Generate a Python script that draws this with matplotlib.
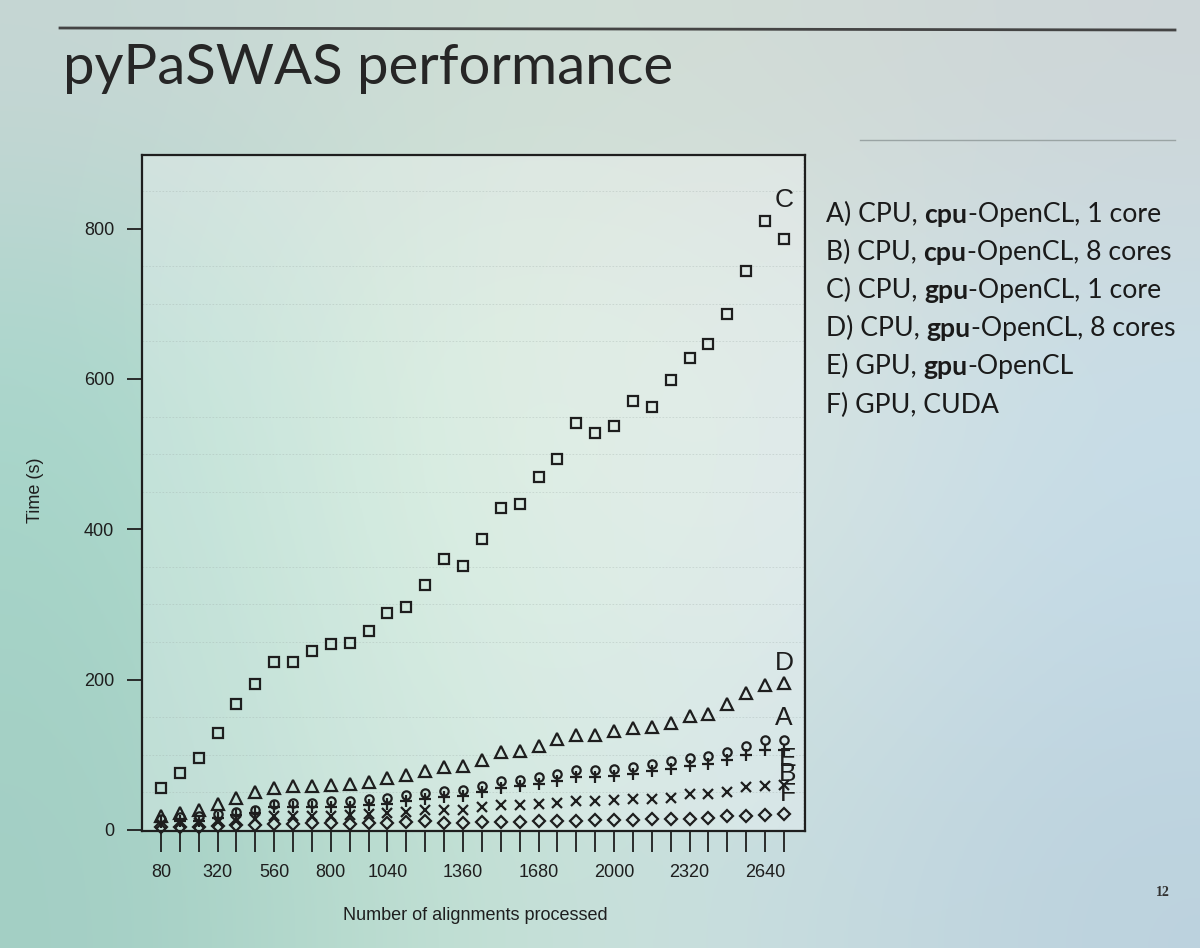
import numpy as np
import matplotlib.pyplot as plt

# alignments processed (x) and time in seconds per configuration
n_align = np.arange(80, 2721, 80)
xtick_labels = [80, 320, 560, 800, 1040, 1360, 1680, 2000, 2320, 2640]

time_a = [14, 17, 18, 21, 24, 27, 35, 36, 36, 38, 38, 41, 42, 47, 49, 52, 53,
          58, 65, 67, 70, 75, 80, 80, 81, 84, 87, 91, 95, 98, 103, 111, 120, 120]
time_b = [8, 9, 9, 11, 12, 15, 18, 18, 19, 19, 20, 21, 22, 24, 26, 26, 26,
          30, 33, 33, 34, 36, 38, 38, 40, 41, 41, 42, 48, 48, 51, 57, 58, 60]
time_c = [56, 76, 96, 129, 167, 194, 224, 224, 238, 247, 249, 265, 289, 296, 326, 361, 351,
          387, 428, 434, 470, 493, 542, 528, 537, 571, 563, 599, 628, 647, 687, 744, 810, 786]
time_d = [18, 23, 26, 34, 43, 50, 56, 58, 58, 60, 61, 64, 69, 73, 78, 83, 85,
          93, 103, 105, 112, 121, 126, 126, 131, 136, 137, 142, 152, 154, 168, 182, 193, 195]
time_e = [10, 12, 12, 16, 20, 22, 30, 30, 30, 31, 31, 33, 34, 39, 41, 44, 45,
          50, 56, 58, 61, 65, 70, 70, 72, 75, 78, 81, 85, 88, 93, 100, 106, 106]
time_f = [4, 4, 4, 5, 6, 7, 8, 8, 9, 9, 8, 9, 9, 11, 12, 9, 9,
          11, 11, 11, 12, 12, 12, 13, 13, 13, 14, 15, 15, 16, 18, 18, 20, 21]

series_names = ["A", "B", "C", "D", "E", "F"]
series_values = [time_a, time_b, time_c, time_d, time_e, time_f]
series_markers = ["o", "x", "s", "^", "+", "D"]
series_msize = [6, 6.5, 7, 8, 8.5, 6]
label_y = [149, 75, 838, 222, 94, 48]
label_x = [2720, 2735, 2720, 2720, 2735, 2735]

legend_lines = [
    [("A) CPU, ", "normal"), ("cpu", "bold"), ("-OpenCL, 1 core", "normal")],
    [("B) CPU, ", "normal"), ("cpu", "bold"), ("-OpenCL, 8 cores", "normal")],
    [("C) CPU, ", "normal"), ("gpu", "bold"), ("-OpenCL, 1 core", "normal")],
    [("D) CPU, ", "normal"), ("gpu", "bold"), ("-OpenCL, 8 cores", "normal")],
    [("E) GPU, ", "normal"), ("gpu", "bold"), ("-OpenCL", "normal")],
    [("F) GPU, CUDA", "normal")],
]

plain = ["Liberation Sans", "DejaVu Sans"]
slide_font = ["Lato", "DejaVu Sans"]
ink = "#1e1e1e"

fig = plt.figure(figsize=(12, 9.48), dpi=100)

# slide background (photo of projected slide)
bg = fig.add_axes([0, 0, 1, 1], zorder=-5)
bg_cols = np.array([
    [[198, 214, 212], [206, 222, 214], [210, 220, 214], [206, 214, 216]],
    [[168, 214, 204], [212, 236, 216], [220, 230, 226], [200, 222, 232]],
    [[164, 210, 198], [204, 234, 216], [214, 228, 226], [196, 218, 230]],
    [[162, 206, 196], [196, 226, 212], [202, 222, 224], [188, 210, 222]],
]) / 255.0
bg.imshow(bg_cols, aspect="auto", interpolation="bicubic", extent=[0, 1, 0, 1])
bg.set_xlim(0, 1)
bg.set_ylim(0, 1)
bg.axis("off")

# slide decorations
fig.add_artist(plt.Line2D([60 / 1200, 1175 / 1200], [1 - 28 / 948, 1 - 30 / 948],
                          color="#444444", lw=2))
fig.add_artist(plt.Line2D([860 / 1200, 1175 / 1200], [1 - 140 / 948, 1 - 140 / 948],
                          color="#9aa4a4", lw=1))
fig.text(63 / 1200, 1 - 84 / 948, "pyPaSWAS performance", family=slide_font,
         fontsize=40.5, color="#262626", va="baseline", ha="left")
fig.text(1163 / 1200, 1 - 893 / 948, "12", family=["Liberation Serif", "DejaVu Serif"],
         fontsize=10, color="#333333", ha="center", va="center", fontweight="bold")

ax = fig.add_axes([142 / 1200, 1 - 831 / 948, 663 / 1200, 676 / 948])
ax.set_facecolor((1, 1, 1, 0.28))

for name, vals, mk, ms in zip(series_names, series_values, series_markers, series_msize):
    ax.plot(n_align, vals, linestyle="none", marker=mk, markersize=ms,
            markerfacecolor="none", markeredgecolor=ink, markeredgewidth=1.6,
            clip_on=False, zorder=3)

for name, lx, ly in zip(series_names, label_x, label_y):
    ax.text(lx, ly, name, family=plain, fontsize=19,
            color=ink, ha="center", va="center", zorder=4)

ax.set_xlim(4, 2809)
ax.set_ylim(-1.5, 898)
ax.set_xticks(n_align)
ax.set_xticklabels([str(v) if v in xtick_labels else "" for v in n_align])
ax.set_yticks([0, 200, 400, 600, 800])
ax.tick_params(axis="x", length=15, width=1.3, pad=9, labelsize=13, colors=ink)
ax.tick_params(axis="y", length=11, width=1.3, pad=9, labelsize=13, colors=ink)
for lab in ax.get_xticklabels() + ax.get_yticklabels():
    lab.set_family(plain)
for sp in ax.spines.values():
    sp.set_linewidth(1.6)
    sp.set_color(ink)

ax.set_xticks(np.arange(0, 2801, 80), minor=True)
ax.set_yticks(np.arange(0, 900, 50), minor=True)
ax.tick_params(which="minor", length=0)
ax.grid(which="minor", color="#9aa8a4", lw=0.6, alpha=0.35, linestyle=(0, (2, 2)))
ax.set_axisbelow(True)

fig.text(475 / 1200, 1 - 915 / 948, "Number of alignments processed", family=plain,
         fontsize=13, color=ink, ha="center", va="center")
fig.text(35 / 1200, 1 - 490 / 948, "Time (s)", family=plain, fontsize=13,
         color=ink, ha="center", va="center", rotation=90)

# legend text on the slide, with bold segments
fig.canvas.draw()
y0 = 1 - 214 / 948
for i, parts in enumerate(legend_lines):
    y = y0 - i * (38.2 / 948)
    prev = None
    for txt, weight in parts:
        if prev is None:
            prev = fig.text(826 / 1200, y, txt, family=slide_font, fontsize=19.2,
                            fontweight=weight, color="#1a1a1a", va="center", ha="left")
        else:
            prev = ax.annotate(txt, xy=(1, 0), xycoords=prev, va="bottom", ha="left",
                               family=slide_font, fontsize=19.2, fontweight=weight,
                               color="#1a1a1a", annotation_clip=False)

fig.savefig("out.png", dpi=100)
